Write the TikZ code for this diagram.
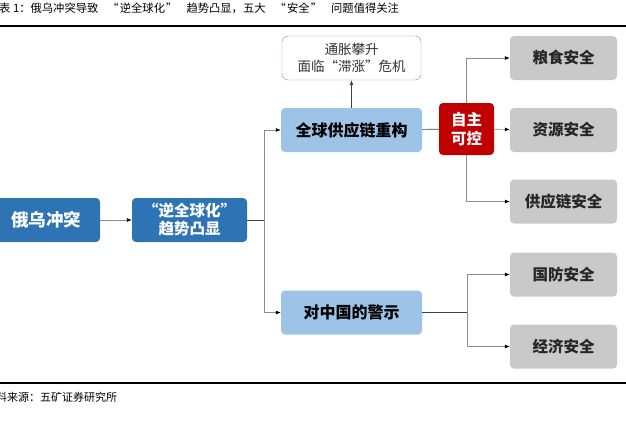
\documentclass[tikz,border=0pt]{standalone}
\usepackage{fontspec}
\setmainfont{Noto Sans CJK SC}
\usetikzlibrary{arrows.meta}

\definecolor{darkblue}{HTML}{2E74B5}
\definecolor{lightblue}{HTML}{9DC3E6}
\definecolor{edgeblue}{HTML}{5B9BD5}
\definecolor{ctrlred}{HTML}{C00000}
\definecolor{boxgray}{HTML}{C9C9C9}
\definecolor{linegray}{HTML}{404040}
\definecolor{branchgray}{HTML}{8C8C8C}

\newcommand{\openq}{\makebox[1.9em][r]{“\hspace{0.1em}}}
\newcommand{\closeq}{\makebox[1.9em][l]{\hspace{0.1em}”}}

\tikzset{
  darkbox/.style={fill=darkblue,text=white,rounded corners=4pt,font=\fontsize{16}{19}\selectfont\bfseries,align=center,inner sep=0pt},
  lightbox/.style={fill=lightblue,text=black,rounded corners=4pt,font=\fontsize{16}{19}\selectfont\bfseries,align=center,inner sep=0pt,minimum width=141pt,minimum height=44pt},
  graybox/.style={fill=boxgray,text=black!85,rounded corners=4pt,font=\fontsize{15.5}{18}\selectfont\bfseries,align=center,inner sep=0pt,minimum width=107pt,minimum height=44pt},
  link/.style={draw=linegray,line width=0.7pt},
  branch/.style={draw=branchgray,line width=0.7pt,-{Latex[length=5pt,width=4pt,color=black]}},
  arr/.style={link,-{Latex[length=5pt,width=4pt]}}
}

\begin{document}
\begin{tikzpicture}[x=1pt,y=-1pt]
\useasboundingbox (0,0) rectangle (626,421);

% title, rules, source
\node [anchor=west,inner sep=0pt,font=\fontsize{11.3}{13}\selectfont] (title) at (-1,8) {表 1：俄乌冲突导致\openq 逆全球化\closeq 趋势凸显，五大\openq 安全\closeq 问题值得关注};
\draw [line width=1.3pt] (0,26)--(626,26);
\draw [line width=1.3pt] (0,383)--(626,383);
\node [anchor=west,inner sep=0pt,font=\fontsize{11}{13}\selectfont] (src) at (-15,397) {资料来源：五矿证券研究所};

% left part
\node [darkbox,minimum width=108pt,minimum height=44pt,font=\fontsize{17.5}{20}\selectfont\bfseries] (war) at (46,220) {俄乌冲突};
\node [darkbox,minimum width=115pt,minimum height=44pt,font=\fontsize{15.5}{18}\selectfont\bfseries] (trend) at (189.5,220) {“逆全球化”\\趋势凸显};
\node [lightbox] (chain) at (351.5,130) {全球供应链重构};
\node [lightbox] (warn) at (351.5,312.5) {对中国的警示};
\node [draw=edgeblue,fill=white,rounded corners=6pt,minimum width=139pt,minimum height=44pt,inner sep=0pt,align=center,text=black!80,font=\fontsize{13.5}{17}\selectfont] (infl) at (351.5,58) {通胀攀升\\面临“滞涨”危机};
\node [fill=ctrlred,text=white,rounded corners=4pt,minimum width=55pt,minimum height=52pt,inner sep=0pt,align=center,font=\fontsize{15.5}{19}\selectfont\bfseries] (ctrl) at (466.5,129) {自主\\可控};

% right part
\node [graybox] (food) at (563.5,58) {粮食安全};
\node [graybox] (res) at (563.5,130) {资源安全};
\node [graybox] (sup) at (563.5,201.5) {供应链安全};
\node [graybox] (def) at (563.5,274.5) {国防安全};
\node [graybox] (eco) at (563.5,346.5) {经济安全};

\coordinate (s1) at (264,220);
\coordinate (s2) at (467,312.5);

\draw [branch] (war) -- (trend);
\draw [link] (trend) -- (s1);
\draw [branch] (s1) |- (chain);
\draw [branch] (s1) |- (warn);
\draw [arr] (chain) -- (infl);
\draw [link] (chain) -- (ctrl);
\draw [branch] (ctrl) -- (res);
\draw [branch] (ctrl.north) |- (food);
\draw [branch] (ctrl.south) |- (sup);
\draw [link] (warn) -- (s2);
\draw [branch] (s2) |- (def);
\draw [branch] (s2) |- (eco);

\end{tikzpicture}
\end{document}
